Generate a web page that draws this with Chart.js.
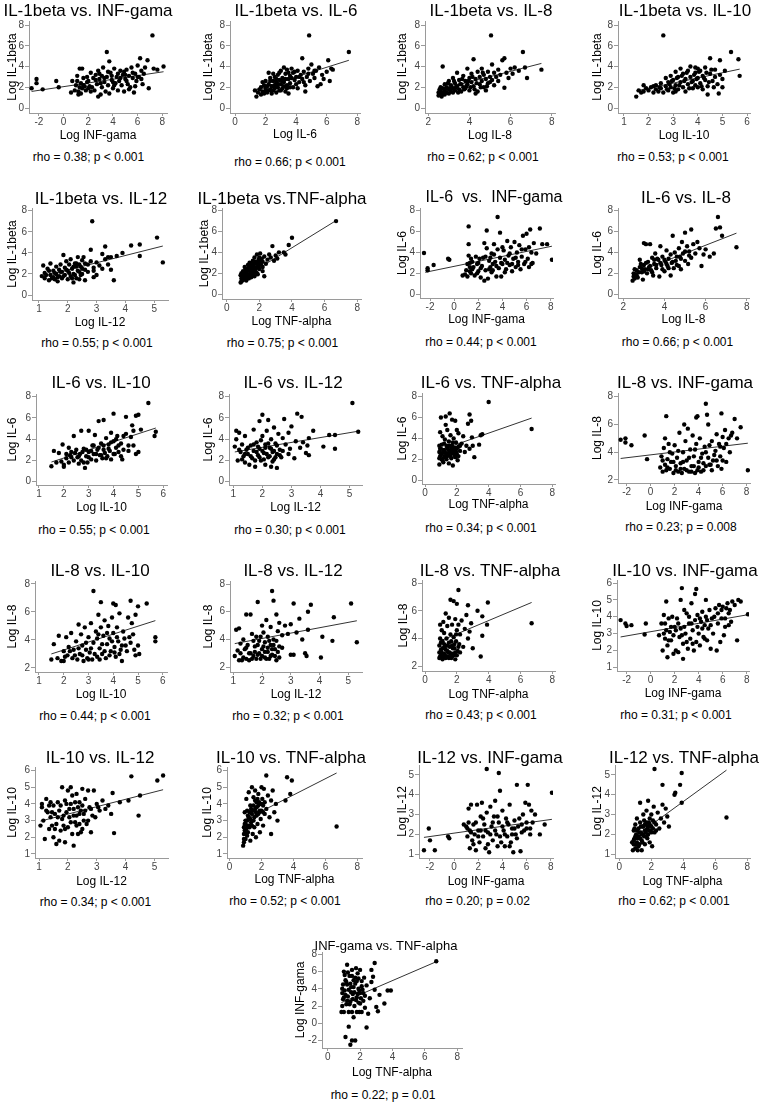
<!DOCTYPE html>
<html>
<head>
<meta charset="utf-8">
<script src="https://cdn.jsdelivr.net/npm/chart.js@4.4.1/dist/chart.umd.min.js"></script>
<style>
  body { margin: 0; width: 760px; height: 1105px; position: relative; overflow: hidden; background: #fff;
         font-family: "Liberation Sans", Arial, sans-serif; }
  canvas { position: absolute; }
  .ttl, .rho { position: absolute; transform: translate(-50%, -50%); white-space: pre; line-height: 1; color: #000; }
  .rho { font-size: 12px; }
</style>
</head>
<body>
<script>
// axis variables
const varLabels = { IL1b: 'Log IL-1beta', IL6: 'Log IL-6', IL8: 'Log IL-8', IL10: 'Log IL-10',
                    IL12: 'Log IL-12', TNF: 'Log TNF-alpha', INF: 'Log INF-gama' };
const xTicks = { INF: [-2, 0, 2, 4, 6, 8], IL6: [0, 2, 4, 6, 8], IL8: [2, 4, 6, 8],
                 IL10: [1, 2, 3, 4, 5, 6], IL12: [1, 2, 3, 4, 5], TNF: [0, 2, 4, 6, 8] };
const yTicks = { IL1b: [0, 2, 4, 6, 8], IL6: [0, 2, 4, 6, 8], IL8: [2, 4, 6, 8],
                 IL10: [1, 2, 3, 4, 5, 6], IL12: [1, 2, 3, 4, 5], INF: [-2, 0, 2, 4, 6, 8] };

// [y variable, x variable] per panel
const pairs = [['IL1b','INF'],['IL1b','IL6'],['IL1b','IL8'],['IL1b','IL10'],['IL1b','IL12'],['IL1b','TNF'],
  ['IL6','INF'],['IL6','IL8'],['IL6','IL10'],['IL6','IL12'],['IL6','TNF'],['IL8','INF'],['IL8','IL10'],
  ['IL8','IL12'],['IL8','TNF'],['IL10','INF'],['IL10','IL12'],['IL10','TNF'],['IL12','INF'],['IL12','TNF'],['INF','TNF']];

const titles = ['IL-1beta vs. INF-gama','IL-1beta vs. IL-6','IL-1beta vs. IL-8','IL-1beta vs. IL-10',
  'IL-1beta vs. IL-12','IL-1beta vs.TNF-alpha','IL-6  vs.  INF-gama','IL-6 vs. IL-8','IL-6 vs. IL-10',
  'IL-6 vs. IL-12','IL-6 vs. TNF-alpha','IL-8 vs. INF-gama','IL-8 vs. IL-10','IL-8 vs. IL-12',
  'IL-8 vs. TNF-alpha','IL-10 vs. INF-gama','IL-10 vs. IL-12','IL-10 vs. TNF-alpha','IL-12 vs. INF-gama',
  'IL-12 vs. TNF-alpha','INF-gama vs. TNF-alpha'];

const rhoTexts = ['rho = 0.38; p < 0.001','rho = 0.66; p < 0.001','rho = 0.62; p < 0.001','rho = 0.53; p < 0.001',
  'rho = 0.55; p < 0.001','rho = 0.75; p < 0.001','rho = 0.44; p < 0.001','rho = 0.66; p < 0.001',
  'rho = 0.55; p < 0.001','rho = 0.30; p < 0.001','rho = 0.34; p < 0.001','rho = 0.23; p = 0.008',
  'rho = 0.44; p < 0.001','rho = 0.32; p < 0.001','rho = 0.43; p < 0.001','rho = 0.31; p < 0.001',
  'rho = 0.34; p < 0.001','rho = 0.52; p < 0.001','rho = 0.20; p = 0.02','rho = 0.62; p < 0.001',
  'rho = 0.22; p = 0.01'];

// fitted line end points [x1, y1, x2, y2]
const fits = [[-2.6,1.6,8.1,3.5],[1.3,1.75,7.45,4.6],[2.45,1.72,7.5,4.3],[1.5,1.65,5.7,3.75],
  [1.1,1.75,5.3,4.65],[0.85,1.4,6.7,7.05],[-2.4,2.1,8.1,4.6],[2.45,1.95,7.5,5.85],[1.5,1.85,5.7,5.05],
  [1.05,2.8,5.3,4.75],[0.9,2.85,6.7,5.95],[-2.5,3.55,8.1,4.65],[1.5,3.0,5.7,5.38],[1.05,3.7,5.3,5.35],
  [0.9,3.8,6.7,6.6],[-2.5,2.8,8.1,4.12],[1.05,2.97,5.3,4.85],[0.85,3.0,6.7,5.85],[-2.5,1.85,8.1,2.76],
  [0.8,1.78,6.7,5.24],[0.85,2.4,6.7,7.15]];

// scatter points [x, y]
const il1b_ifng = [[-2.6,1.9],[-2.2,2.8],[-2.2,2.4],[-1.7,1.8],[-0.6,2.6],[-0.4,2.0],[0.6,1.5],[0.7,2.6],[0.9,1.7],[1.0,2.2],[1.1,3.1],[1.2,1.3],[1.2,1.6],[1.3,2.0],[1.3,3.8],[1.4,2.4],[1.4,1.4],[1.5,3.8],[1.6,2.9],[1.7,2.1],[1.8,1.7],[1.9,3.0],[2.0,2.6],[2.1,2.1],[2.2,3.4],[2.2,1.6],[2.4,2.9],[2.5,1.7],[2.6,3.2],[2.7,2.3],[2.8,1.1],[2.8,3.6],[2.9,2.8],[3.0,1.3],[3.1,3.1],[3.1,2.0],[3.2,3.9],[3.3,2.5],[3.4,1.6],[3.5,5.4],[3.5,3.0],[3.6,2.2],[3.7,4.5],[3.7,1.4],[3.8,3.4],[3.9,2.7],[4.0,1.9],[4.1,3.8],[4.2,2.4],[4.3,3.0],[4.4,1.7],[4.5,2.6],[4.6,3.6],[4.7,2.2],[4.8,3.2],[4.9,1.6],[5.0,2.8],[5.1,3.7],[5.2,2.3],[5.3,3.1],[5.4,2.0],[5.5,3.9],[5.6,2.9],[5.7,1.5],[5.8,3.3],[5.9,2.6],[6.0,4.1],[6.1,3.0],[6.2,4.8],[6.3,3.6],[6.4,2.3],[6.6,3.9],[6.8,4.6],[6.9,1.9],[7.2,7.0],[7.3,3.8],[7.6,3.7],[8.1,4.0],
  [1.1,2.6],[1.6,2.2],[1.9,2.5],[2.3,2.0],[2.6,2.7],[2.9,3.3],[3.3,2.9],[3.6,3.5],[3.9,3.1],[4.1,2.2],[4.4,3.3],[4.6,2.9],[4.9,3.5],[5.1,2.6],[5.3,1.8],[5.6,3.4],[5.8,2.1],[6.0,3.0],[6.3,2.8],[6.5,3.3],[2.0,1.9],[3.0,2.4],[4.0,2.5],[5.0,3.2],[1.5,1.9]];
const il1b_il6 = [[1.3,1.7],[1.4,1.1],[1.5,1.5],[1.6,1.8],[1.7,1.3],[1.7,2.0],[1.8,1.6],[1.9,2.2],[1.9,1.4],[2.0,1.9],[2.0,2.6],[2.1,1.5],[2.2,2.3],[2.2,3.4],[2.3,1.8],[2.3,2.9],[2.4,2.1],[2.4,1.4],[2.5,2.6],[2.5,1.7],[2.6,3.0],[2.6,2.2],[2.7,1.5],[2.7,2.5],[2.8,2.0],[2.8,3.2],[2.9,1.7],[2.9,2.7],[3.0,2.3],[3.0,3.6],[3.1,1.9],[3.1,2.9],[3.2,3.9],[3.2,2.5],[3.3,1.6],[3.3,3.3],[3.4,2.2],[3.4,3.7],[3.5,2.8],[3.5,1.4],[3.6,3.1],[3.6,2.4],[3.7,3.8],[3.8,2.0],[3.8,3.4],[3.9,2.7],[4.0,3.0],[4.1,1.9],[4.1,3.6],[4.2,2.5],[4.3,3.2],[4.4,4.8],[4.4,2.8],[4.5,3.5],[4.6,2.2],[4.6,1.6],[4.7,3.0],[4.8,3.8],[4.85,7.0],[4.9,2.6],[5.0,4.2],[5.1,3.3],[5.2,2.9],[5.3,3.6],[5.4,2.1],[5.5,3.9],[5.6,2.3],[5.7,3.2],[5.8,2.8],[6.0,3.5],[6.1,4.6],[6.2,2.6],[6.3,3.8],[6.4,3.7],[7.45,5.4],
  [1.8,2.5],[2.0,1.6],[2.1,2.1],[2.3,2.6],[2.4,1.7],[2.5,3.3],[2.6,1.9],[2.7,2.8],[2.8,2.3],[2.9,3.4],[3.0,1.7],[3.1,2.6],[3.2,2.1],[3.3,2.8],[3.4,1.9],[3.5,3.4],[3.6,2.0],[3.7,2.9],[3.9,3.5],[4.0,2.3],[4.2,3.0],[4.5,2.5],[4.8,3.3],[5.2,3.6],[2.2,1.7]];
const il1b_il8 = [[2.5,1.2],[2.5,1.5],[2.55,1.8],[2.6,1.3],[2.6,1.6],[2.65,1.1],[2.7,1.9],[2.7,4.0],[2.75,1.4],[2.8,1.7],[2.8,2.3],[2.9,1.5],[2.9,2.0],[3.0,1.8],[3.0,2.6],[3.1,1.6],[3.1,2.2],[3.2,2.9],[3.2,1.9],[3.3,2.4],[3.3,1.7],[3.4,3.4],[3.4,2.1],[3.5,1.8],[3.5,2.7],[3.6,2.3],[3.6,1.6],[3.7,3.1],[3.7,2.0],[3.8,2.6],[3.8,1.9],[3.9,3.8],[3.9,2.3],[4.0,2.9],[4.0,1.7],[4.1,2.5],[4.1,3.3],[4.2,4.7],[4.2,2.1],[4.3,1.4],[4.3,2.8],[4.4,3.5],[4.4,1.6],[4.5,2.3],[4.5,3.0],[4.6,2.6],[4.6,3.8],[4.7,2.0],[4.7,3.2],[4.8,2.8],[4.8,1.7],[4.9,3.5],[4.9,2.4],[5.0,3.0],[5.05,7.0],[5.1,2.7],[5.1,4.2],[5.2,3.4],[5.2,2.2],[5.3,3.0],[5.4,3.7],[5.4,2.6],[5.5,3.2],[5.6,4.6],[5.7,4.8],[5.7,1.95],[5.8,3.4],[5.9,2.9],[6.0,3.8],[6.1,3.3],[6.2,3.9],[6.4,3.6],[6.6,5.4],[6.7,3.9],[6.8,2.9],[7.5,3.7],
  [2.55,1.4],[2.6,2.0],[2.7,1.5],[2.8,1.3],[2.85,1.9],[2.95,2.4],[3.0,1.4],[3.1,1.9],[3.2,1.5],[3.25,2.6],[3.35,2.0],[3.45,1.5],[3.55,2.3],[3.65,2.8],[3.75,1.8],[3.85,2.1],[3.95,2.6],[4.05,2.0],[4.15,3.0],[4.25,1.8],[4.35,2.4],[4.55,2.0],[4.65,3.4],[4.85,2.1],[5.0,2.5]];
const il1b_il10 = [[1.5,1.1],[1.6,1.7],[1.7,1.5],[1.8,2.2],[1.8,1.6],[1.9,1.9],[2.0,1.7],[2.1,2.0],[2.2,1.5],[2.3,1.8],[2.3,2.2],[2.4,1.6],[2.5,2.4],[2.5,1.9],[2.6,7.0],[2.6,1.5],[2.7,2.1],[2.7,2.9],[2.8,1.7],[2.8,2.5],[2.9,3.1],[2.9,2.0],[3.0,1.5],[3.0,2.7],[3.1,3.5],[3.1,2.2],[3.2,1.8],[3.2,3.0],[3.3,2.5],[3.3,3.8],[3.4,2.0],[3.4,3.3],[3.5,2.8],[3.5,1.6],[3.6,3.6],[3.6,2.3],[3.7,3.0],[3.7,4.0],[3.8,2.6],[3.8,1.9],[3.9,3.4],[3.9,2.2],[4.0,3.8],[4.0,2.9],[4.1,2.4],[4.1,3.6],[4.2,1.8],[4.2,3.1],[4.3,2.7],[4.3,3.9],[4.4,2.1],[4.4,1.3],[4.5,4.8],[4.5,3.3],[4.6,2.6],[4.7,3.0],[4.7,3.7],[4.8,2.3],[4.85,1.4],[4.9,4.6],[4.9,3.2],[5.0,2.8],[5.0,2.0],[5.1,3.6],[5.35,5.4],[5.65,4.7],[5.7,3.1],
  [2.75,1.8],[2.85,2.3],[2.95,2.6],[3.05,1.9],[3.15,2.9],[3.25,2.2],[3.35,3.1],[3.45,2.6],[3.55,3.4],[3.65,1.9],[3.75,2.5],[3.85,3.2],[3.95,2.8],[4.05,3.5],[4.15,2.1],[4.25,2.9],[4.35,3.4],[4.45,2.5],[4.55,3.7],[4.65,2.0],[2.2,2.1],[2.45,2.0],[3.1,1.6],[3.9,3.9],[4.0,2.0]];
const il1b_il12 = [[1.1,1.8],[1.15,2.8],[1.2,2.1],[1.2,1.6],[1.3,2.5],[1.35,1.4],[1.4,1.9],[1.4,3.0],[1.5,1.7],[1.5,2.3],[1.55,1.5],[1.6,2.0],[1.6,2.7],[1.65,1.3],[1.7,1.8],[1.7,2.4],[1.75,2.9],[1.8,1.6],[1.8,2.2],[1.85,3.8],[1.9,1.9],[1.9,2.6],[1.95,3.2],[2.0,1.5],[2.0,2.3],[2.05,2.9],[2.1,1.8],[2.1,3.4],[2.15,2.5],[2.2,1.2],[2.2,2.0],[2.25,3.0],[2.3,2.7],[2.3,1.6],[2.35,3.6],[2.4,2.2],[2.4,2.9],[2.45,1.9],[2.5,3.3],[2.5,2.5],[2.6,1.4],[2.6,3.0],[2.7,2.2],[2.8,4.3],[2.85,7.0],[2.9,2.6],[2.9,1.7],[3.0,3.1],[3.1,2.8],[3.2,3.9],[3.3,4.6],[3.3,3.4],[3.4,2.9],[3.5,3.6],[3.5,2.4],[3.6,1.4],[3.7,3.7],[3.9,4.0],[4.2,4.7],[4.5,4.8],[4.5,3.7],[5.1,5.45],[5.3,3.1],
  [1.25,1.9],[1.35,2.3],[1.45,1.6],[1.55,2.1],[1.65,1.7],[1.75,2.2],[1.85,1.8],[1.95,2.4],[2.05,2.1],[2.15,1.6],[2.2,2.7],[2.25,1.9],[2.3,3.0],[2.35,2.3],[2.4,1.5],[2.45,2.7],[2.5,2.0],[2.55,3.6],[2.6,2.4],[2.7,2.9],[2.8,3.2],[2.9,2.3],[3.0,1.9],[3.2,2.5],[3.4,3.6]];
const il1b_tnf = [[0.85,1.1],[0.85,1.8],[0.9,1.5],[0.9,2.0],[0.95,1.3],[1.0,1.7],[1.0,2.2],[1.05,1.4],[1.1,1.9],[1.1,2.6],[1.15,1.6],[1.2,2.1],[1.2,1.3],[1.25,2.4],[1.3,1.8],[1.3,2.8],[1.35,1.5],[1.4,2.2],[1.4,3.0],[1.45,1.9],[1.5,2.6],[1.5,1.6],[1.55,2.3],[1.6,3.2],[1.6,2.0],[1.65,2.7],[1.7,1.7],[1.7,3.5],[1.75,2.4],[1.8,2.9],[1.8,2.1],[1.85,3.8],[1.9,2.6],[1.9,1.9],[1.95,3.3],[2.0,2.4],[2.0,3.0],[2.05,3.9],[2.1,2.8],[2.15,3.4],[2.2,2.2],[2.2,3.1],[2.3,1.7],[2.3,3.6],[2.4,2.9],[2.5,3.3],[2.6,3.8],[2.7,3.5],[2.8,4.6],[2.9,3.2],[3.0,3.7],[3.1,3.4],[3.2,4.0],[3.5,4.0],[3.6,3.8],[3.8,4.7],[4.0,5.4],[6.7,7.0],
  [0.9,1.2],[0.95,1.9],[1.0,1.4],[1.05,2.0],[1.1,1.5],[1.15,2.3],[1.2,1.7],[1.25,1.9],[1.3,2.3],[1.35,2.6],[1.4,1.6],[1.45,2.9],[1.5,2.1],[1.55,2.5],[1.6,1.8],[1.65,2.9],[1.7,2.3],[1.75,3.1],[1.8,2.5],[1.85,2.0],[1.9,3.0],[1.95,2.7],[2.0,3.5],[2.1,3.2],[2.2,2.6]];
const il6_ifng = [[-2.5,3.95],[-2.2,2.5],[-2.2,2.3],[-1.7,2.8],[-0.5,3.4],[-0.4,3.3],[0.7,1.8],[0.9,1.9],[1.0,2.3],[1.1,1.7],[1.2,6.5],[1.2,4.8],[1.2,3.7],[1.3,2.6],[1.3,3.0],[1.4,2.0],[1.4,3.4],[1.5,2.4],[1.7,1.8],[1.8,3.6],[1.9,2.9],[2.0,2.2],[2.1,3.4],[2.2,1.6],[2.3,2.7],[2.4,3.5],[2.5,1.3],[2.5,4.9],[2.6,2.3],[2.7,6.1],[2.7,4.4],[2.8,1.5],[2.9,3.2],[3.0,2.6],[3.1,3.9],[3.1,2.1],[3.2,2.9],[3.3,4.8],[3.4,3.1],[3.5,1.7],[3.6,7.4],[3.6,4.3],[3.7,2.5],[3.8,5.9],[3.8,3.5],[3.9,1.7],[4.0,2.9],[4.1,4.2],[4.2,3.3],[4.3,2.4],[4.4,5.1],[4.5,3.7],[4.6,2.8],[4.7,4.5],[4.8,2.2],[4.9,3.4],[5.0,5.0],[5.1,2.6],[5.2,4.0],[5.3,3.1],[5.4,4.7],[5.5,2.4],[5.6,3.6],[5.7,5.6],[5.8,2.9],[5.9,4.3],[6.0,5.8],[6.1,3.4],[6.2,2.6],[6.3,6.2],[6.4,4.0],[6.5,3.0],[6.6,4.9],[6.8,3.9],[7.1,6.3],[7.3,4.8],[7.7,4.8],[8.1,3.3],
  [1.1,2.9],[1.3,2.2],[1.5,3.1],[1.6,2.6],[1.9,2.0],[2.0,3.0],[2.2,2.5],[2.6,3.6],[2.9,2.4],[3.0,3.5],[3.2,2.3],[3.3,3.8],[3.5,2.7],[3.9,3.0],[4.0,4.5],[4.2,2.1],[4.4,3.0],[4.6,3.9],[4.8,2.9],[5.1,3.5],[5.3,2.8],[5.6,4.3],[5.9,3.1],[6.2,4.5],[6.4,2.9]];
const il6_il8 = [[2.45,1.3],[2.5,1.7],[2.5,2.0],[2.55,1.5],[2.6,1.9],[2.65,2.3],[2.7,1.6],[2.8,2.6],[2.8,3.3],[2.9,2.1],[2.95,1.4],[3.0,2.8],[3.0,4.9],[3.05,2.4],[3.1,4.8],[3.15,2.0],[3.2,3.1],[3.25,2.6],[3.3,4.8],[3.35,2.3],[3.4,3.5],[3.45,1.8],[3.5,2.9],[3.55,3.9],[3.6,2.5],[3.7,3.3],[3.75,1.7],[3.8,4.6],[3.85,2.8],[3.9,3.6],[4.0,2.2],[4.05,3.1],[4.1,4.2],[4.15,2.7],[4.2,3.4],[4.3,1.8],[4.35,3.0],[4.4,5.6],[4.45,2.5],[4.5,4.0],[4.55,3.2],[4.6,2.8],[4.7,4.4],[4.75,3.6],[4.8,2.4],[4.85,5.0],[4.9,3.9],[5.0,5.9],[5.0,3.2],[5.1,4.6],[5.15,2.9],[5.2,4.1],[5.3,6.2],[5.3,3.5],[5.4,4.8],[5.5,3.9],[5.6,5.0],[5.7,4.4],[5.8,2.7],[5.9,3.8],[6.0,4.3],[6.2,3.6],[6.4,3.9],[6.5,6.3],[6.6,7.4],[6.7,6.4],[6.8,5.6],[7.5,4.5],
  [2.55,2.4],[2.65,1.8],[2.75,2.1],[2.85,2.9],[2.9,2.5],[3.0,2.2],[3.1,3.0],[3.2,2.4],[3.3,2.7],[3.4,2.1],[3.5,3.3],[3.6,2.8],[3.65,3.4],[3.8,3.0],[3.9,2.4],[4.0,3.3],[4.1,2.9],[4.2,2.5],[4.3,3.8],[4.4,3.1],[4.6,3.6],[4.7,2.7],[4.8,3.4],[5.0,4.1],[5.2,3.7]];
const il6_il10 = [[1.5,1.45],[1.6,2.9],[1.7,1.8],[1.8,2.7],[1.9,1.9],[1.95,3.5],[2.0,1.6],[2.0,1.4],[2.1,2.2],[2.2,3.2],[2.25,2.5],[2.3,2.8],[2.4,4.3],[2.4,2.0],[2.5,3.0],[2.55,2.3],[2.6,1.7],[2.65,2.6],[2.7,4.8],[2.7,2.0],[2.8,3.1],[2.85,1.3],[2.9,2.4],[2.95,1.8],[3.0,4.8],[3.0,2.8],[3.1,2.1],[3.15,3.4],[3.2,2.6],[3.25,4.4],[3.3,2.0],[3.35,3.0],[3.4,5.7],[3.45,2.5],[3.5,3.6],[3.55,2.2],[3.6,5.8],[3.6,3.0],[3.65,2.7],[3.7,4.1],[3.75,2.4],[3.8,3.5],[3.85,2.9],[3.9,4.6],[3.9,2.1],[4.0,6.4],[4.0,3.8],[4.05,2.6],[4.1,3.2],[4.15,4.3],[4.2,2.8],[4.3,3.6],[4.35,2.1],[4.4,3.0],[4.5,6.1],[4.5,4.5],[4.6,3.4],[4.7,4.2],[4.75,5.3],[4.8,4.8],[4.9,6.2],[4.9,2.6],[5.0,6.3],[5.0,2.8],[5.1,4.9],[5.4,7.4],[5.65,4.3],[5.7,4.7],
  [2.1,2.6],[2.2,1.8],[2.3,2.3],[2.45,2.7],[2.6,2.4],[2.75,2.8],[2.8,1.8],[2.9,3.0],[3.0,2.3],[3.1,2.9],[3.2,3.4],[3.3,2.6],[3.4,3.2],[3.5,2.5],[3.6,3.4],[3.7,2.2],[3.8,3.1],[3.9,3.7],[4.0,2.6],[4.1,4.0],[4.2,3.4],[4.3,2.4],[4.4,4.3],[4.6,2.9],[4.8,3.4]];
const il6_il12 = [[1.05,3.3],[1.1,4.0],[1.1,4.8],[1.15,2.0],[1.2,4.6],[1.25,2.8],[1.3,3.5],[1.35,2.4],[1.4,4.3],[1.4,1.8],[1.45,3.0],[1.5,2.6],[1.55,1.6],[1.6,3.4],[1.65,2.2],[1.7,4.9],[1.7,2.9],[1.75,1.4],[1.8,3.7],[1.85,2.5],[1.9,5.7],[1.9,3.1],[1.95,2.0],[2.0,6.3],[2.0,4.3],[2.05,2.7],[2.1,3.5],[2.1,1.6],[2.15,4.8],[2.2,5.8],[2.2,2.3],[2.25,3.2],[2.3,1.4],[2.3,4.0],[2.35,2.8],[2.4,5.1],[2.4,2.1],[2.45,3.6],[2.5,1.3],[2.5,2.6],[2.55,4.5],[2.6,3.0],[2.65,2.3],[2.7,4.1],[2.75,5.9],[2.8,3.5],[2.9,4.6],[2.95,3.1],[3.0,5.2],[3.1,2.2],[3.15,3.8],[3.2,6.4],[3.3,3.2],[3.35,6.1],[3.4,3.7],[3.5,2.7],[3.55,3.4],[3.6,4.1],[3.6,2.5],[3.75,4.8],[4.1,3.3],[4.3,4.4],[4.5,4.4],[4.5,3.1],[5.1,7.4],[5.3,4.7],
  [1.2,3.0],[1.3,2.1],[1.4,2.6],[1.5,3.2],[1.6,2.4],[1.7,3.5],[1.75,2.0],[1.8,2.8],[1.85,3.3],[1.9,2.3],[1.95,3.9],[2.0,2.9],[2.05,2.1],[2.1,3.2],[2.15,2.6],[2.2,3.6],[2.25,2.4],[2.3,3.1],[2.35,1.9],[2.4,2.9],[2.45,2.3],[2.5,3.4],[2.6,2.5],[2.7,2.9],[2.9,2.6]];
const il6_tnf = [[0.9,1.5],[0.9,2.7],[0.9,3.3],[0.95,4.6],[0.95,2.3],[1.0,6.0],[1.0,3.0],[1.05,2.0],[1.1,2.6],[1.1,4.2],[1.15,1.7],[1.2,3.5],[1.2,2.9],[1.25,2.3],[1.3,5.3],[1.3,6.1],[1.35,2.0],[1.4,3.1],[1.4,4.8],[1.45,2.5],[1.5,1.6],[1.5,3.7],[1.55,6.4],[1.6,2.8],[1.6,4.3],[1.65,2.1],[1.7,3.3],[1.7,5.8],[1.75,1.4],[1.8,2.6],[1.8,4.0],[1.85,3.0],[1.9,5.7],[1.9,2.2],[1.95,3.6],[2.0,4.8],[2.0,2.5],[2.05,1.9],[2.1,3.2],[2.1,4.5],[2.2,2.8],[2.3,3.5],[2.4,4.2],[2.5,2.7],[2.6,3.3],[2.7,5.4],[2.8,6.3],[2.8,3.0],[2.9,5.7],[2.95,4.1],[3.0,3.3],[3.1,2.2],[3.4,3.4],[3.5,4.3],[3.6,4.4],[4.0,7.5],[6.7,4.9],
  [0.9,2.1],[0.95,3.0],[1.0,2.4],[1.05,3.4],[1.1,1.9],[1.15,2.8],[1.2,2.2],[1.25,3.9],[1.3,2.6],[1.35,3.3],[1.4,2.3],[1.45,2.9],[1.5,2.6],[1.55,3.3],[1.6,2.3],[1.65,3.0],[1.7,2.6],[1.75,3.6],[1.8,2.9],[1.85,2.4],[1.9,3.1],[1.95,2.7],[2.0,3.0],[2.1,2.3],[2.2,3.3]];
const il8_ifng = [[-2.5,4.9],[-2.1,5.0],[-2.1,4.7],[-1.6,4.5],[-0.5,5.2],[-0.3,3.5],[0.8,2.9],[0.9,3.7],[1.0,2.6],[1.1,4.3],[1.2,3.1],[1.2,5.0],[1.3,6.6],[1.3,2.7],[1.4,3.5],[1.5,4.6],[1.6,2.8],[1.7,3.3],[1.8,3.9],[1.9,2.5],[2.0,4.5],[2.1,3.0],[2.2,3.6],[2.3,2.6],[2.4,5.4],[2.5,3.2],[2.6,2.5],[2.7,4.0],[2.8,6.0],[2.8,2.8],[2.9,4.8],[3.0,3.4],[3.1,5.7],[3.2,2.6],[3.3,4.2],[3.4,3.0],[3.5,5.2],[3.6,3.7],[3.7,2.5],[3.8,6.5],[3.8,4.6],[3.9,6.6],[3.9,2.7],[4.0,3.3],[4.1,5.0],[4.2,2.6],[4.3,3.9],[4.4,3.2],[4.5,4.4],[4.6,7.5],[4.6,3.0],[4.7,6.7],[4.8,6.0],[4.8,3.6],[4.9,4.5],[5.0,3.1],[5.1,4.8],[5.2,3.4],[5.4,4.1],[5.5,5.3],[5.6,3.0],[5.7,4.6],[5.8,3.7],[5.9,6.8],[5.9,2.8],[6.0,5.1],[6.1,4.3],[6.2,5.6],[6.3,3.3],[6.5,5.0],[6.6,4.0],[6.8,5.4],[7.0,6.4],[7.2,5.0],[7.5,5.8],[8.1,2.7],
  [1.0,3.4],[1.4,2.9],[1.6,4.0],[1.9,3.3],[2.1,2.7],[2.3,4.1],[2.5,2.8],[2.7,3.3],[3.0,2.7],[3.2,3.6],[3.4,2.6],[3.6,3.0],[3.7,4.2],[4.0,2.9],[4.2,3.6],[4.4,2.7],[4.6,4.0],[4.9,3.1],[5.1,2.7],[5.3,3.8],[5.5,3.4],[5.8,4.4],[6.0,3.4],[6.3,4.6],[6.7,5.2]];
const il8_il10 = [[1.5,2.6],[1.6,3.7],[1.75,2.7],[1.8,4.3],[1.9,2.5],[2.0,3.2],[2.0,2.5],[2.1,4.2],[2.15,2.9],[2.2,3.5],[2.3,4.5],[2.35,2.7],[2.4,3.3],[2.5,3.9],[2.55,2.6],[2.6,5.1],[2.65,3.0],[2.7,4.4],[2.75,3.6],[2.8,2.5],[2.85,4.9],[2.9,3.3],[2.95,2.7],[3.0,4.2],[3.05,3.1],[3.1,5.2],[3.15,2.6],[3.2,7.5],[3.2,3.8],[3.3,4.6],[3.35,2.8],[3.4,5.8],[3.45,3.4],[3.5,6.7],[3.5,4.9],[3.55,3.0],[3.6,4.3],[3.65,5.4],[3.7,2.7],[3.75,3.7],[3.8,5.0],[3.85,4.1],[3.9,3.2],[3.95,5.6],[4.0,6.6],[4.0,4.5],[4.05,3.5],[4.1,6.5],[4.1,2.8],[4.15,4.9],[4.2,3.9],[4.25,5.9],[4.3,3.3],[4.35,2.5],[4.4,4.6],[4.5,3.6],[4.6,5.6],[4.65,4.2],[4.7,6.8],[4.75,5.2],[4.8,4.4],[4.9,2.9],[4.9,5.8],[5.0,6.4],[5.0,3.6],[5.05,3.0],[5.35,6.6],[5.7,4.2],[5.7,3.9],
  [2.05,2.8],[2.25,3.2],[2.45,2.9],[2.6,3.4],[2.75,2.9],[2.9,3.8],[3.0,2.6],[3.1,3.4],[3.25,3.0],[3.35,4.1],[3.45,2.6],[3.55,3.7],[3.65,3.2],[3.75,4.5],[3.85,2.9],[3.95,3.9],[4.05,3.1],[4.15,4.2],[4.25,3.0],[4.35,3.6],[4.45,4.1],[4.55,3.2],[4.7,3.8],[4.85,3.3],[3.4,4.4]];
const il8_il12 = [[1.05,2.8],[1.1,4.7],[1.15,3.2],[1.2,4.8],[1.2,2.5],[1.25,3.7],[1.3,2.5],[1.35,4.0],[1.4,3.3],[1.45,5.8],[1.45,2.6],[1.5,3.6],[1.55,2.5],[1.6,5.8],[1.6,3.0],[1.65,4.4],[1.7,2.8],[1.75,3.5],[1.8,4.2],[1.85,6.7],[1.85,2.9],[1.9,3.9],[1.95,2.6],[2.0,5.0],[2.0,3.3],[2.05,4.5],[2.1,2.7],[2.1,3.8],[2.15,5.4],[2.2,3.1],[2.2,4.2],[2.25,2.6],[2.3,3.6],[2.3,4.9],[2.35,7.5],[2.35,2.9],[2.4,6.8],[2.4,4.0],[2.45,3.3],[2.5,5.8],[2.5,2.5],[2.55,4.6],[2.6,3.5],[2.6,5.2],[2.7,4.3],[2.8,5.0],[2.9,4.4],[3.0,2.9],[3.0,5.1],[3.1,6.6],[3.1,2.9],[3.2,4.5],[3.3,5.5],[3.4,4.0],[3.5,3.0],[3.55,2.8],[3.6,6.0],[3.6,4.7],[3.7,6.5],[4.05,2.7],[4.1,4.2],[4.45,3.9],[4.5,5.6],[5.1,6.6],[5.3,3.8],
  [1.25,3.0],[1.35,2.7],[1.45,3.4],[1.55,3.0],[1.65,2.6],[1.7,3.9],[1.75,3.1],[1.8,2.6],[1.85,3.6],[1.9,3.0],[1.95,4.2],[2.0,2.8],[2.05,3.5],[2.1,3.1],[2.15,2.6],[2.2,3.4],[2.25,3.9],[2.3,2.8],[2.35,3.3],[2.4,3.6],[2.45,2.8],[2.5,3.9],[2.55,3.1],[2.6,2.7],[2.7,3.4]];
const il8_tnf = [[0.9,2.6],[0.9,3.5],[0.95,4.0],[0.95,5.0],[1.0,2.8],[1.0,3.2],[1.05,4.6],[1.1,2.5],[1.1,3.8],[1.15,5.2],[1.2,2.9],[1.2,4.4],[1.25,3.4],[1.3,5.8],[1.3,2.6],[1.35,4.0],[1.4,3.1],[1.4,4.9],[1.45,2.7],[1.5,3.7],[1.5,5.5],[1.55,3.0],[1.6,6.8],[1.6,4.3],[1.65,2.6],[1.7,3.5],[1.7,5.0],[1.75,2.9],[1.8,6.7],[1.8,4.1],[1.85,3.3],[1.9,5.4],[1.9,2.5],[1.95,3.8],[2.0,6.5],[2.0,4.6],[2.05,3.1],[2.1,7.5],[2.1,5.0],[2.15,3.6],[2.2,4.3],[2.3,5.3],[2.4,3.4],[2.5,4.7],[2.6,5.7],[2.7,6.4],[2.7,4.0],[2.8,4.5],[2.9,5.1],[3.0,3.3],[3.3,6.0],[3.5,2.7],[3.6,5.6],[3.6,4.2],[3.9,5.0],[3.95,6.6],[6.7,5.1],
  [0.9,3.0],[0.95,2.7],[1.0,3.7],[1.05,3.0],[1.1,3.3],[1.15,2.7],[1.2,3.6],[1.25,2.8],[1.3,3.2],[1.35,2.7],[1.4,3.5],[1.45,3.0],[1.5,2.6],[1.55,3.4],[1.6,2.9],[1.65,3.8],[1.7,2.7],[1.75,3.3],[1.8,2.8],[1.85,3.6],[1.9,3.0],[1.95,4.3],[2.0,2.8],[2.1,3.4],[2.2,3.0]];
const il10_ifng = [[-2.5,3.8],[-2.1,3.6],[-2.0,3.45],[-1.6,3.5],[-0.5,2.95],[-0.4,3.6],[0.7,2.9],[0.9,3.6],[1.0,2.0],[1.1,4.1],[1.2,2.7],[1.3,4.9],[1.3,3.2],[1.4,1.6],[1.4,2.3],[1.5,3.9],[1.6,3.1],[1.7,2.6],[1.8,4.0],[1.9,1.8],[2.0,3.4],[2.1,2.0],[2.2,3.9],[2.3,1.9],[2.4,2.8],[2.5,5.0],[2.5,3.3],[2.6,5.7],[2.7,1.5],[2.7,2.4],[2.8,4.4],[2.9,3.0],[3.0,4.2],[3.1,2.1],[3.2,3.6],[3.3,2.7],[3.4,4.8],[3.5,3.2],[3.6,2.0],[3.7,5.35],[3.7,3.8],[3.8,5.65],[3.8,2.5],[3.9,4.1],[4.0,3.0],[4.1,2.3],[4.2,3.7],[4.3,4.3],[4.4,2.8],[4.5,3.5],[4.6,5.0],[4.6,4.0],[4.7,2.6],[4.8,3.3],[4.9,4.4],[5.0,2.1],[5.1,3.9],[5.2,3.0],[5.4,4.5],[5.5,2.0],[5.6,3.6],[5.7,4.7],[5.8,2.5],[5.9,3.9],[6.0,4.6],[6.1,2.9],[6.2,3.4],[6.3,4.5],[6.4,4.8],[6.5,3.5],[6.6,4.4],[6.8,4.9],[7.0,4.7],[7.2,2.6],[7.3,5.0],[7.5,4.9],[8.1,4.15],
  [1.1,3.0],[1.2,3.6],[1.5,2.6],[1.7,3.4],[1.9,2.9],[2.1,3.2],[2.3,3.6],[2.6,2.9],[2.8,3.4],[3.0,2.5],[3.2,4.0],[3.4,3.6],[3.5,2.4],[3.9,3.4],[4.1,3.9],[4.3,3.3],[4.5,2.7],[4.7,3.8],[5.0,3.5],[5.3,4.0],[5.6,4.2],[5.9,4.4],[6.2,3.9],[6.5,4.2],[6.7,3.7]];
const il10_il12 = [[1.05,2.7],[1.1,4.0],[1.1,3.8],[1.15,3.0],[1.2,1.9],[1.25,4.3],[1.3,3.5],[1.35,2.5],[1.4,4.1],[1.4,3.2],[1.45,2.7],[1.5,3.9],[1.5,2.0],[1.55,3.4],[1.6,1.6],[1.6,2.8],[1.65,4.1],[1.7,3.6],[1.7,1.8],[1.75,2.4],[1.8,5.0],[1.8,3.1],[1.85,2.7],[1.9,4.2],[1.9,1.7],[1.95,3.5],[2.0,2.6],[2.0,4.8],[2.05,3.2],[2.1,5.0],[2.1,4.0],[2.15,2.2],[2.2,3.7],[2.2,1.5],[2.25,2.9],[2.3,4.6],[2.3,3.3],[2.35,2.2],[2.4,4.1],[2.4,2.8],[2.45,3.6],[2.5,4.9],[2.5,2.5],[2.55,3.4],[2.6,4.3],[2.7,3.0],[2.7,4.8],[2.8,2.3],[2.8,3.7],[2.9,4.8],[2.95,3.2],[3.0,4.0],[3.1,3.6],[3.2,4.2],[3.3,3.7],[3.4,3.9],[3.5,3.4],[3.55,4.65],[3.6,2.25],[3.8,4.1],[4.1,4.2],[4.2,5.65],[4.45,3.3],[4.5,4.5],[5.1,5.4],[5.3,5.7],
  [1.25,3.6],[1.35,3.9],[1.45,3.5],[1.55,2.5],[1.65,3.2],[1.75,3.9],[1.85,3.3],[1.9,2.5],[1.95,4.0],[2.05,3.7],[2.1,2.9],[2.15,4.5],[2.2,3.3],[2.25,4.1],[2.3,2.7],[2.35,3.8],[2.4,3.4],[2.45,2.3],[2.5,3.9],[2.55,3.0],[2.6,3.6],[2.65,2.8],[2.75,3.8],[2.85,3.3],[3.05,3.8]];
const il10_tnf = [[0.85,1.5],[0.9,1.7],[0.9,2.6],[0.9,2.2],[0.95,2.8],[0.95,3.5],[1.0,1.9],[1.0,2.5],[1.0,3.0],[1.05,4.3],[1.1,2.7],[1.1,3.6],[1.15,2.3],[1.2,4.7],[1.2,3.2],[1.25,2.6],[1.3,3.9],[1.3,1.8],[1.35,2.9],[1.4,5.0],[1.4,3.4],[1.45,2.2],[1.5,4.4],[1.5,3.0],[1.55,2.6],[1.6,3.7],[1.6,4.8],[1.65,2.0],[1.7,3.3],[1.7,4.1],[1.75,2.8],[1.8,3.9],[1.8,4.6],[1.85,3.5],[1.9,2.3],[1.9,4.0],[1.95,3.1],[2.0,5.0],[2.0,3.6],[2.05,4.3],[2.1,2.7],[2.1,3.9],[2.15,4.9],[2.2,3.4],[2.2,4.1],[2.3,5.7],[2.3,3.7],[2.4,4.5],[2.5,3.2],[2.6,2.2],[2.6,4.2],[2.7,4.8],[2.8,3.5],[2.9,4.0],[3.0,3.0],[3.5,4.2],[3.6,5.6],[3.8,4.6],[3.9,5.4],[6.7,2.65],
  [0.9,1.9],[0.95,2.4],[1.0,2.2],[1.0,2.8],[1.05,2.5],[1.1,3.0],[1.1,2.1],[1.15,3.3],[1.2,2.7],[1.25,3.5],[1.3,3.1],[1.35,3.7],[1.4,2.7],[1.45,3.6],[1.5,3.9],[1.55,3.2],[1.6,4.2],[1.65,3.5],[1.7,3.8],[1.75,4.3],[1.8,3.4],[1.85,4.1],[1.9,3.6],[2.0,4.0],[2.1,3.5]];
const il12_ifng = [[-2.5,1.2],[-2.1,2.3],[-2.0,1.7],[-1.6,1.2],[-0.5,1.9],[-0.4,1.8],[0.8,2.5],[1.0,2.4],[1.1,1.9],[1.2,2.6],[1.2,3.3],[1.3,1.3],[1.3,2.2],[1.4,3.5],[1.5,1.7],[1.6,2.5],[1.7,2.0],[1.8,1.2],[1.9,3.5],[2.0,2.2],[2.1,1.6],[2.2,2.9],[2.3,3.6],[2.4,1.9],[2.5,2.5],[2.6,1.3],[2.7,5.3],[2.7,3.1],[2.8,2.1],[2.9,1.1],[3.0,3.4],[3.1,2.4],[3.2,1.7],[3.3,2.9],[3.4,3.7],[3.5,2.0],[3.6,1.4],[3.7,5.1],[3.7,2.6],[3.8,4.2],[3.9,1.6],[4.0,3.2],[4.1,2.2],[4.2,1.4],[4.3,2.8],[4.4,1.9],[4.5,2.5],[4.6,3.5],[4.7,1.6],[4.8,2.3],[4.9,1.1],[5.0,2.7],[5.1,2.0],[5.2,4.5],[5.3,2.4],[5.5,1.15],[5.6,2.1],[5.7,3.0],[5.8,2.2],[5.9,3.6],[6.0,2.6],[6.1,4.5],[6.2,3.5],[6.3,2.3],[6.4,3.2],[6.5,2.6],[6.7,3.0],[7.1,2.0],[7.5,2.5],[8.1,4.1],
  [1.1,2.3],[1.4,2.1],[1.6,1.5],[1.8,2.6],[2.0,1.9],[2.2,2.2],[2.4,2.8],[2.6,2.2],[2.8,1.5],[3.0,2.0],[3.2,2.6],[3.4,2.2],[3.6,2.9],[3.8,1.9],[4.0,2.4],[4.2,2.0],[4.4,2.6],[4.6,1.4],[4.8,2.0],[5.0,2.3],[5.2,1.8],[5.4,2.8],[5.6,2.5],[6.0,2.3],[6.3,2.0]];
const il12_tnf = [[0.8,1.6],[0.85,1.2],[0.9,2.2],[0.9,1.5],[0.95,1.8],[1.0,2.5],[1.0,1.3],[1.05,2.0],[1.1,1.6],[1.1,2.8],[1.15,1.2],[1.2,2.3],[1.2,1.9],[1.25,1.5],[1.3,3.6],[1.3,2.6],[1.35,2.1],[1.4,1.2],[1.4,1.7],[1.45,2.4],[1.5,3.0],[1.5,2.0],[1.55,2.7],[1.6,1.5],[1.6,2.2],[1.65,2.5],[1.7,1.9],[1.7,3.2],[1.75,2.3],[1.8,3.7],[1.8,2.0],[1.85,2.6],[1.9,1.6],[1.9,2.8],[1.95,2.2],[2.0,3.0],[2.0,2.4],[2.05,1.4],[2.1,2.7],[2.15,3.4],[2.2,5.3],[2.2,2.1],[2.3,2.5],[2.4,3.1],[2.5,2.3],[2.6,2.8],[2.7,4.5],[2.7,3.5],[2.8,2.6],[2.9,3.3],[3.0,2.9],[3.1,2.4],[3.45,4.0],[3.5,4.1],[3.8,4.5],[3.9,5.1],[3.9,3.6],[6.7,2.85],
  [0.9,1.7],[0.95,2.3],[1.0,1.9],[1.05,1.5],[1.1,2.2],[1.15,1.8],[1.2,1.4],[1.25,2.1],[1.3,1.8],[1.35,2.4],[1.4,2.0],[1.45,1.6],[1.5,2.4],[1.55,1.9],[1.6,2.5],[1.65,2.1],[1.7,2.6],[1.75,1.8],[1.8,2.4],[1.85,2.2],[1.9,2.5],[2.0,2.1],[2.1,2.3],[2.2,2.6],[2.3,2.2]];
const ifng_tnf = [[0.85,1.3],[0.9,3.5],[0.9,4.0],[0.95,2.8],[1.0,6.0],[1.0,1.3],[1.05,3.8],[1.1,5.0],[1.1,-1.6],[1.15,2.2],[1.2,6.8],[1.2,4.5],[1.25,3.1],[1.3,1.3],[1.3,-0.4],[1.35,5.5],[1.4,2.5],[1.4,-2.5],[1.45,4.2],[1.5,6.2],[1.5,1.3],[1.5,-2.0],[1.55,3.4],[1.6,5.0],[1.6,0.7],[1.65,2.0],[1.7,4.6],[1.7,-2.0],[1.75,6.4],[1.8,3.0],[1.8,1.3],[1.85,5.8],[1.9,2.4],[1.9,4.0],[1.95,1.3],[2.0,6.2],[2.0,3.5],[2.05,2.9],[2.1,4.9],[2.1,1.3],[2.15,3.9],[2.2,2.6],[2.25,5.3],[2.3,1.8],[2.3,3.2],[2.4,-0.5],[2.4,4.4],[2.5,1.1],[2.6,2.9],[2.7,6.2],[2.7,4.8],[2.8,5.4],[2.9,7.0],[2.9,3.9],[3.0,1.9],[3.1,1.4],[3.2,3.3],[3.5,2.3],[3.7,3.8],[3.9,3.8],[6.7,7.2],
  [0.9,2.0],[0.95,4.5],[1.0,3.0],[1.05,5.6],[1.1,3.3],[1.15,4.8],[1.2,2.6],[1.25,5.9],[1.3,3.9],[1.35,2.2],[1.4,4.6],[1.45,3.6],[1.5,5.5],[1.55,2.8],[1.6,4.2],[1.65,3.6],[1.7,5.3],[1.75,2.7],[1.8,4.9],[1.85,3.4],[1.9,5.2],[1.95,3.8],[2.0,2.3],[2.1,4.3],[2.2,3.5]];

const points = [il1b_ifng, il1b_il6, il1b_il8, il1b_il10, il1b_il12, il1b_tnf, il6_ifng, il6_il8, il6_il10,
  il6_il12, il6_tnf, il8_ifng, il8_il10, il8_il12, il8_tnf, il10_ifng, il10_il12, il10_tnf, il12_ifng, il12_tnf, ifng_tnf];

// layout: plot box [left, right, top, bottom], axis range [xmin, xmax, ymin, ymax],
// y-title x, x-title y, title centre, rho centre
const frames = [
  [29,167,21,113, -2.81,8.38,-0.48,8.39, 12,136, 88,10, 88.5,157],
  [230,360,21,113, -0.33,8.18,-0.48,8.39, 208,135, 296,10, 290,162],
  [425,555,21,113, 1.84,8.16,-0.48,8.39, 402,136, 491,10, 483,157],
  [618,750,21,113, 0.76,6.12,-0.48,8.39, 597,136, 685,10, 673,157],
  [32,168,208,300, 0.76,5.48,-0.47,8.26, 12,323, 101,198, 97,343],
  [222,361,208,299, -0.29,8.23,-0.48,8.26, 204,322, 282,198, 282.5,343],
  [420,553,208,298, -2.83,8.19,-0.36,8.26, 402,320, 494,197, 481,342],
  [618,749,208,298, 1.74,8.11,-0.36,8.26, 597,320, 686,197, 677.5,342],
  [36,167,394,485, 0.88,6.15,-0.31,8.25, 12,508, 101,382, 94,530],
  [229,362,394,485, 0.85,5.43,-0.31,8.25, 208,508, 293,382, 290,530],
  [422,555,393,484, -0.19,8.17,-0.38,8.36, 402,505, 491,382, 481,528],
  [618,750,393,483, -2.72,8.28,1.78,8.27, 597,507, 685,382, 681,527],
  [35,167,581,672, 0.84,6.17,1.71,8.21, 12,695, 100,570, 95,716],
  [230,362,581,672, 0.885,5.48,1.65,8.22, 208,695, 293,570, 288,716],
  [422,555,580,671, -0.19,8.17,1.66,8.22, 403,695, 490,570, 481,715],
  [617,749,580,671, -2.8,8.19,0.78,6.18, 597,694, 685,570, 676,715],
  [35,168,767,858, 0.86,5.47,0.76,6.21, 12,882, 100,757, 95.5,902],
  [227,362,767,858, -0.16,8.29,0.76,6.21, 207,880, 291,757, 285,901],
  [419,553,765,858, -2.91,8.19,0.81,5.5, 402,882, 490,757, 477.5,901],
  [615,750,765,858, -0.27,8.17,0.81,5.5, 597,882, 684,757, 674,901],
  [322,462,952,1048, -0.35,8.29,-2.88,8.28, 300,1073, 386,945, 383,1095]
];
const titleSizes = [17,17,17,17,17,17,16,17,17,17,17,17,17,17,17,17,17,17,17,17,13];

Chart.defaults.font.family = '"Liberation Sans", Arial, sans-serif';
Chart.defaults.color = '#000';
Chart.defaults.animation = false;

const axisColor = '#9a9a9a';

function axisOpts(min, max, vals, label, isX, size) {
  return {
    type: 'linear', min: min, max: max,
    position: isX ? 'bottom' : 'left',
    afterBuildTicks: s => { s.ticks = vals.map(v => ({ value: v })); },
    afterFit: s => { if (isX) s.height = size; else s.width = size; },
    grid: { drawOnChartArea: false, drawTicks: true, tickLength: isX ? 3 : 4, color: axisColor },
    border: { display: true, color: axisColor, width: 1 },
    ticks: { autoSkip: false, maxRotation: 0, padding: isX ? 0 : 1, color: '#444',
             font: { size: 10 }, callback: v => String(v) },
    title: { display: true, text: label, padding: 0, color: '#000', font: { size: 12 } }
  };
}

points.forEach((pts, i) => {
  const [axL, axR, axT, axB, xmin, xmax, ymin, ymax, yLabX, xLabY, tX, tY, rX, rY] = frames[i];
  const [yv, xv] = pairs[i];
  const cl = Math.round(yLabX - 7), ct = axT - 8, cr = axR + 8, cb = Math.round(xLabY + 7);

  const cv = document.createElement('canvas');
  cv.width = cr - cl;
  cv.height = cb - ct;
  cv.style.left = cl + 'px';
  cv.style.top = ct + 'px';
  document.body.appendChild(cv);

  const f = fits[i];
  new Chart(cv, {
    type: 'scatter',
    data: {
      datasets: [
        { data: pts.map(p => ({ x: p[0], y: p[1] })), pointRadius: 2.2, pointBackgroundColor: '#000',
          pointBorderWidth: 0, order: 0 },
        { data: [{ x: f[0], y: f[1] }, { x: f[2], y: f[3] }], showLine: true, pointRadius: 0,
          borderColor: '#333', borderWidth: 1, order: 1 }
      ]
    },
    options: {
      responsive: false, devicePixelRatio: 1, events: [],
      layout: { padding: { top: 8, right: 8, left: 0, bottom: 0 } },
      plugins: { legend: { display: false }, tooltip: { enabled: false } },
      scales: {
        x: axisOpts(xmin, xmax, xTicks[xv], varLabels[xv], true, cb - axB),
        y: axisOpts(ymin, ymax, yTicks[yv], varLabels[yv], false, axL - cl)
      }
    }
  });

  const t = document.createElement('div');
  t.className = 'ttl';
  t.textContent = titles[i];
  t.style.fontSize = titleSizes[i] + 'px';
  t.style.left = tX + 'px';
  t.style.top = tY + 'px';
  document.body.appendChild(t);

  const r = document.createElement('div');
  r.className = 'rho';
  r.textContent = rhoTexts[i];
  r.style.left = rX + 'px';
  r.style.top = rY + 'px';
  document.body.appendChild(r);
});
</script>
</body>
</html>
